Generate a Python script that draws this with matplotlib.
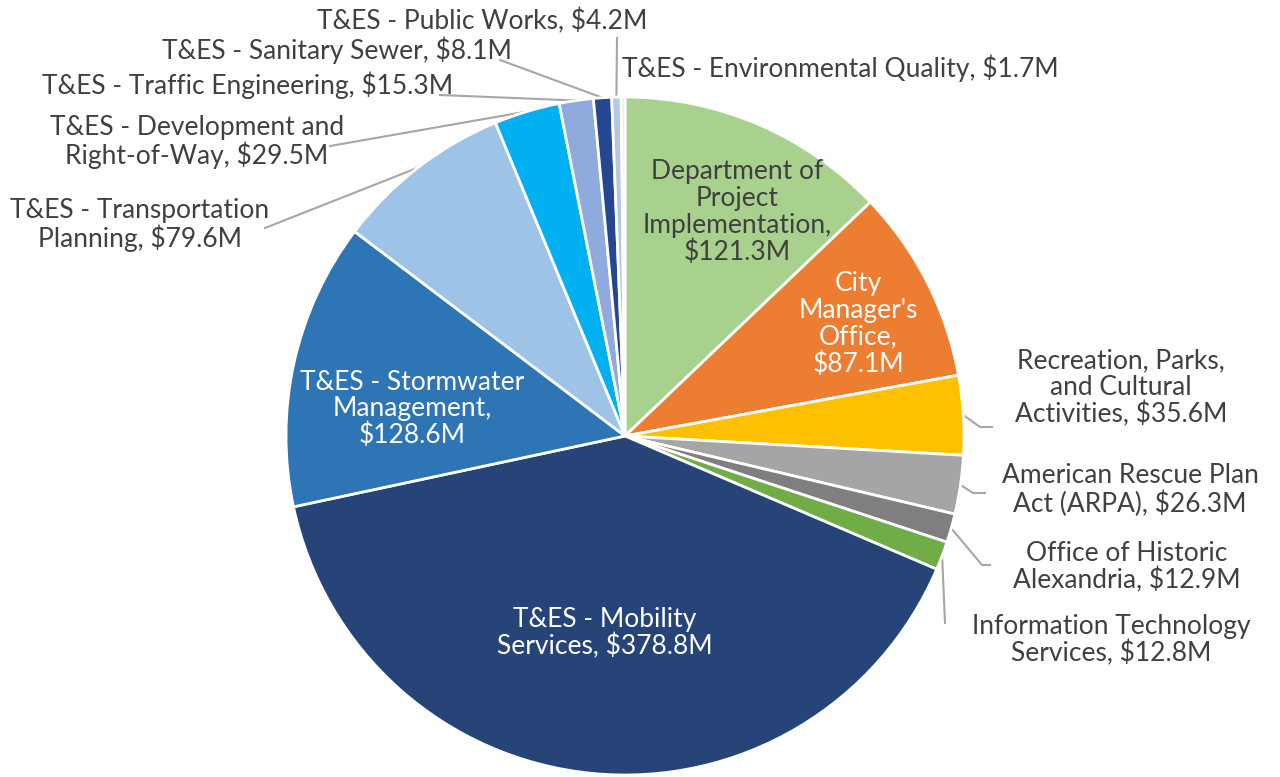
import numpy as np
import matplotlib
matplotlib.use("Agg")
import matplotlib.pyplot as plt

W, H = 1280, 777

names = ["Department of\nProject\nImplementation,", "City\nManager's\nOffice,",
         "Recreation, Parks,\nand Cultural\nActivities,", "American Rescue Plan\nAct (ARPA),",
         "Office of Historic\nAlexandria,", "Information Technology\nServices,",
         "T&ES - Mobility\nServices,", "T&ES - Stormwater\nManagement,",
         "T&ES - Transportation\nPlanning,", "T&ES - Development and\nRight-of-Way,",
         "T&ES - Traffic Engineering,", "T&ES - Sanitary Sewer,",
         "T&ES - Public Works,", "T&ES - Environmental Quality,"]
values = [121.3, 87.1, 35.6, 26.3, 12.9, 12.8, 378.8, 128.6, 79.6, 29.5, 15.3, 8.1, 4.2, 1.7]
colors = ["#A9D18E", "#ED7D31", "#FFC000", "#A5A5A5", "#7F7F7F", "#70AD47", "#264478",
          "#2E75B6", "#9DC3E6", "#00B0F0", "#8FAADC", "#24478F", "#B4C7E7", "#DAE3F3"]

# label layout (image pixels): x, y, text colour, how the value joins the name
layout = [
    (737, 212, "#404040", "\n"),
    (858, 324, "white", "\n"),
    (1121, 388, "#404040", " "),
    (1130, 490, "#404040", " "),
    (1127, 567, "#404040", " "),
    (1111, 640, "#404040", " "),
    (605, 633, "white", " "),
    (412, 409, "white", "\n"),
    (140, 225, "#404040", " "),
    (197, 142, "#404040", " "),
    (248, 85, "#404040", " "),
    (337, 50, "#404040", " "),
    (482, 21, "#404040", " "),
    (840, 68, "#404040", " "),
]
# leader lines: label-side points (image pixels), wedge end is computed
leaders = {
    2: [(980, 427), (992, 427)],
    3: [(973, 493), (985, 493)],
    4: [(982, 565), (990, 565)],
    5: [(945, 623)],
    8: [(265, 228)],
    9: [(330, 146)],
    10: [(440, 95)],
    11: [(500, 60)],
    12: [(617, 38)],
}

plt.rcParams['font.family'] = ['Lato', 'DejaVu Sans']
fig = plt.figure(figsize=(W / 100, H / 100), dpi=100)
ax = fig.add_axes([0, 0, 1, 1])

cx, cy, R = 625, H - 436, 339
wedges, _ = ax.pie(values, colors=colors, startangle=90, counterclock=False,
                   center=(cx, cy), radius=R,
                   wedgeprops=dict(edgecolor="white", linewidth=2))
ax.set_xlim(0, W)
ax.set_ylim(0, H)
ax.set_aspect('equal')
ax.axis('off')

for i, w in enumerate(wedges):
    x, y, col, sep = layout[i]
    ax.text(x, H - y, f"{names[i]}{sep}${values[i]}M", ha="center", va="center",
            color=col, fontsize=19, linespacing=1.08)
    if i in leaders:
        a = np.deg2rad((w.theta1 + w.theta2) / 2)
        pts = [(cx + R * np.cos(a), cy + R * np.sin(a))] + [(px, H - py) for px, py in leaders[i]]
        xs, ys = zip(*pts)
        ax.plot(xs, ys, color="#A6A6A6", lw=1.5, zorder=0.5)

fig.savefig("out.png", dpi=100)
